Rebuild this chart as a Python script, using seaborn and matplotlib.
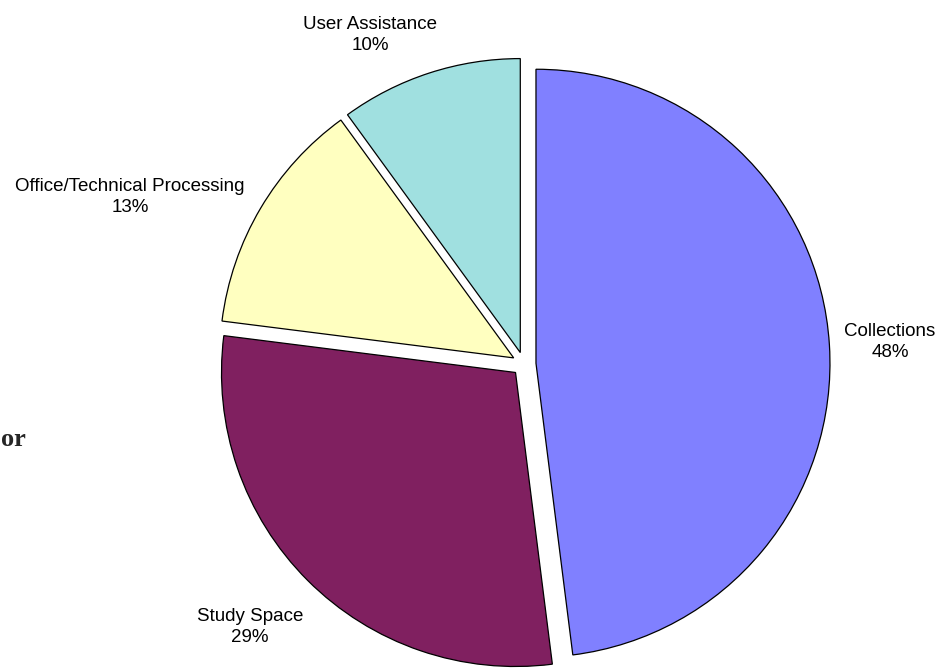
import matplotlib
matplotlib.use("Agg")
import matplotlib.pyplot as plt
import seaborn as sns

sns.set_theme(style="white")
plt.rcParams['font.family'] = ['Liberation Sans', 'DejaVu Sans']

categories = ["Collections", "Study Space", "Office/Technical Processing", "User Assistance"]
values = [48, 29, 13, 10]
colors = ["#8080FF", "#802060", "#FFFFC0", "#A0E0E0"]

fig = plt.figure(figsize=(9.51, 6.69), dpi=100)
ax = fig.add_axes([0, 0, 1, 1])
W, H = 951, 669
cx, cy, r = 524, H - 364, 294

ax.pie(values, colors=colors, startangle=90, counterclock=False,
       explode=[12] * len(values), center=(cx, cy), radius=r,
       wedgeprops=dict(edgecolor="black", linewidth=0.9))
ax.set_xlim(0, W)
ax.set_ylim(0, H)
ax.set_aspect("equal")
ax.axis("off")

label_pos = [(890, H - 342), (250, H - 627), (130, H - 197), (370, H - 35)]
for name, v, (x, y) in zip(categories, values, label_pos):
    ax.text(x, y, f"{name}\n{v}%", ha="center", va="center", fontsize=13.5,
            fontweight="normal", linespacing=1.3, color="black")

ax.text(1, H - 439, "or", ha="left", va="center", fontsize=19,
        fontweight="bold", family=["Liberation Serif", "DejaVu Serif"])

fig.savefig("out.png", dpi=100)
